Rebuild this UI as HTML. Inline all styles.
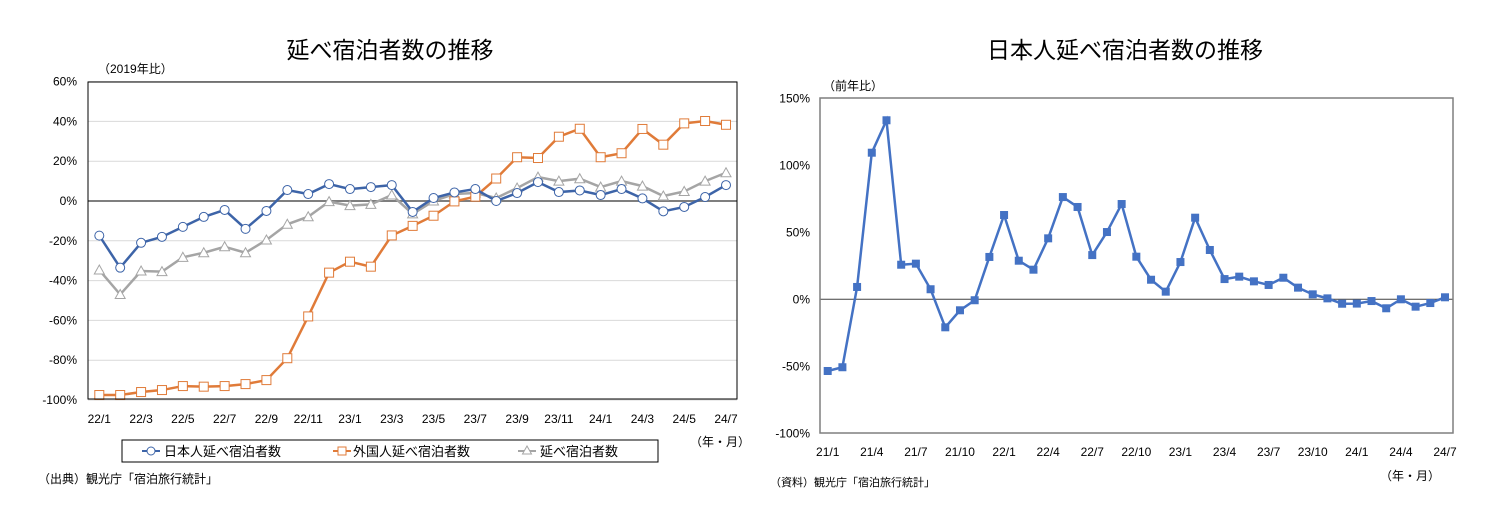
<!DOCTYPE html>
<html><head><meta charset="utf-8">
<style>
body{margin:0;background:#fff;width:1491px;height:527px;overflow:hidden;font-family:"Liberation Sans","Noto Sans CJK JP",sans-serif;}
svg text{font-family:"Liberation Sans","Noto Sans CJK JP",sans-serif;}
</style></head>
<body>
<svg id="c" width="1491" height="527" xmlns="http://www.w3.org/2000/svg">
<text x="390" y="58" font-size="23" text-anchor="middle">延べ宿泊者数の推移</text>
<text x="98" y="73" font-size="12">（2019年比）</text>
<text x="1125" y="58" font-size="23" text-anchor="middle">日本人延べ宿泊者数の推移</text>
<text x="823" y="90" font-size="12">（前年比）</text>
<g id="L"></g><g id="R"></g>
<rect x="122" y="440" width="536" height="22" fill="none" stroke="#000" stroke-width="1"/>
<g>
<line x1="142" y1="451" x2="160" y2="451" stroke="#3d64a8" stroke-width="2"/><circle cx="151" cy="451" r="4" fill="#fff" stroke="#3d64a8"/>
<text x="164" y="456" font-size="13">日本人延べ宿泊者数</text></g>
<g>
<line x1="333" y1="451" x2="351" y2="451" stroke="#e07b39" stroke-width="2"/><rect x="338" y="447" width="8" height="8" fill="#fff" stroke="#e07b39"/>
<text x="353" y="456" font-size="13">外国人延べ宿泊者数</text></g>
<g>
<line x1="518" y1="451" x2="536" y2="451" stroke="#a5a5a5" stroke-width="2"/><path d="M527 446 L531.5 454 L522.5 454 Z" fill="#fff" stroke="#a5a5a5"/>
<text x="540" y="456" font-size="13">延べ宿泊者数</text></g>
<text x="690" y="446" font-size="12">（年・月）</text>
<text x="38" y="483" font-size="12">（出典）観光庁「宿泊旅行統計」</text>
<text x="1380" y="480" font-size="12">（年・月）</text>
<text x="770" y="486" font-size="11">（資料）観光庁「宿泊旅行統計」</text>
</svg>
<script>
const leftMonths=["22/1","22/2","22/3","22/4","22/5","22/6","22/7","22/8","22/9","22/10","22/11","22/12","23/1","23/2","23/3","23/4","23/5","23/6","23/7","23/8","23/9","23/10","23/11","23/12","24/1","24/2","24/3","24/4","24/5","24/6","24/7"];
const japaneseVals=[-17.4,-33.5,-21,-18,-13,-8,-4.5,-14,-5,5.5,3.5,8.5,6,7,8,-5.5,1.5,4.3,6,0,4,9.5,4.5,5.3,3,6,1.3,-5.2,-3,2,8];
const foreignVals=[-97.5,-97.5,-96,-95,-93,-93.3,-93,-92,-90,-79,-58,-36,-30.5,-33,-17.3,-12.5,-7.4,-0.2,2.2,11.3,22,21.6,32.3,36.3,22,24,36.2,28.3,39,40.2,38.3];
const totalVals=[-34.7,-47,-35.2,-35.5,-28.3,-26,-23,-26,-19.6,-11.7,-7.9,-0.3,-2.3,-1.7,3,-6.5,0,3.5,4,1.5,6.5,12,10,11.2,7,10,7.5,2.5,4.8,10,14.2];
const leftTicks=[60,40,20,0,-20,-40,-60,-80,-100];
const rightMonths=["21/1","21/2","21/3","21/4","21/5","21/6","21/7","21/8","21/9","21/10","21/11","21/12","22/1","22/2","22/3","22/4","22/5","22/6","22/7","22/8","22/9","22/10","22/11","22/12","23/1","23/2","23/3","23/4","23/5","23/6","23/7","23/8","23/9","23/10","23/11","23/12","24/1","24/2","24/3","24/4","24/5","24/6","24/7"];
const japaneseYoY=[-53.5,-50.7,9.2,109.4,133.6,25.8,26.6,7.5,-20.9,-8.2,-0.7,31.6,62.9,28.8,22.1,45.5,76.3,68.9,33,50.2,71.1,31.8,14.6,5.7,27.8,60.9,36.8,15.1,16.9,13.4,10.7,16.1,8.7,3.7,0.7,-3.3,-3.2,-1.3,-6.7,0,-5.5,-2.8,1.5];
const rightTicks=[150,100,50,0,-50,-100];

const NS="http://www.w3.org/2000/svg";
function mk(p,t,a){const e=document.createElementNS(NS,t);for(const k in a)e.setAttribute(k,a[k]);p.appendChild(e);return e;}
// LEFT
const L=document.getElementById('L');
const lx=i=>99.3+i*(726-99.3)/(leftMonths.length-1);
const ly=v=>201+(0-v)*(400-201)/100;
leftTicks.forEach(t=>{
 const g=mk(L,'line',{x1:88,x2:737,y1:ly(t),y2:ly(t),stroke:t===0?'#7f7f7f':'#d9d9d9','stroke-width':t===0?2:1});
 
 
 const tx=mk(L,'text',{x:77,y:ly(t)+4,'font-size':12,'text-anchor':'end'});tx.textContent=t+'%';
 
 
});
leftMonths.forEach((m,i)=>{if(i%2===0){const tx=mk(L,'text',{x:lx(i),y:423,'font-size':12,'text-anchor':'middle'});tx.textContent=m;
 
 }});
function series(vals,col,shape,name){
 const g=mk(L,'g',{});
 
 
 mk(g,'polyline',{points:vals.map((v,i)=>lx(i)+','+ly(v)).join(' '),fill:'none',stroke:col,'stroke-width':2.5});
 vals.forEach((v,i)=>{const x=lx(i),y=ly(v);let m;
  if(shape==='c')m=mk(g,'circle',{cx:x,cy:y,r:4.5,fill:'#fff',stroke:col});
  else if(shape==='s')m=mk(g,'rect',{x:x-4.5,y:y-4.5,width:9,height:9,fill:'#fff',stroke:col});
  else m=mk(g,'path',{d:`M${x} ${y-5}L${x+5} ${y+4}L${x-5} ${y+4}Z`,fill:'#fff',stroke:col});
  
  });
}
series(totalVals,'#a5a5a5','t','total-series');
series(foreignVals,'#e07b39','s','foreign-series');
series(japaneseVals,'#3d64a8','c','japanese-series');
const lb=mk(L,'rect',{x:88,y:82,width:649,height:317,fill:'none',stroke:'#000','stroke-width':1});


// RIGHT
const R=document.getElementById('R');
const rx=i=>827.7+i*(1445-827.7)/(rightMonths.length-1);
const ry=v=>299.3-v*1.34;
rightTicks.forEach(t=>{
 if(t===0){const z=mk(R,'line',{x1:820,x2:1453,y1:ry(0),y2:ry(0),stroke:'#404040','stroke-width':1});
 
 }
 const tx=mk(R,'text',{x:810,y:ry(t)+4,'font-size':12,'text-anchor':'end'});tx.textContent=t+'%';
 
 
});
rightMonths.forEach((m,i)=>{if(i%3===0){const tx=mk(R,'text',{x:rx(i),y:456,'font-size':12,'text-anchor':'middle'});tx.textContent=m;
 
 }});
const rg=mk(R,'g',{});


mk(rg,'polyline',{points:japaneseYoY.map((v,i)=>rx(i)+','+ry(v)).join(' '),fill:'none',stroke:'#4472c4','stroke-width':2.5});
japaneseYoY.forEach((v,i)=>{const m=mk(rg,'rect',{x:rx(i)-4,y:ry(v)-4,width:8,height:8,fill:'#4472c4'});
 
 });
const rb=mk(R,'rect',{x:820,y:98,width:633,height:335,fill:'none',stroke:'#7f7f7f','stroke-width':1.5});


</script>
</body></html>
